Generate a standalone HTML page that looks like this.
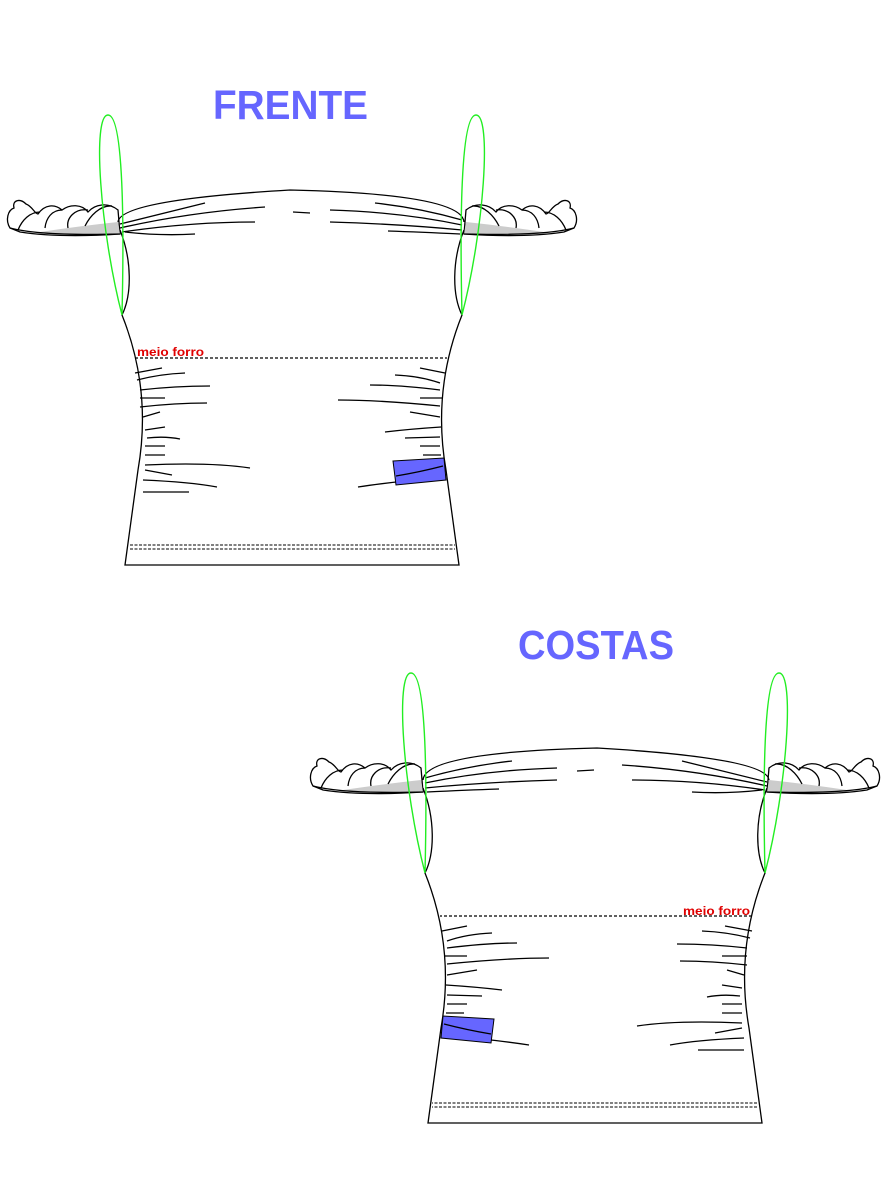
<!DOCTYPE html>
<html><head><meta charset="utf-8"><style>body{margin:0;background:#fff}svg{display:block}</style></head><body>
<svg width="887" height="1182" viewBox="0 0 887 1182" xmlns="http://www.w3.org/2000/svg">
<defs>
<g id="g" fill="none" stroke="#000" stroke-width="1.3">
  <!-- sleeves -->
  <path d="M10,228 C5,220 8,210 14,208 C12,200 20,198 26,204 C32,206 35,214 38,214 C45,204 55,204 62,210 C70,204 82,204 88,212 C95,204 108,202 118,210 L120,234 Q60,238 20,232 Z" fill="#fff"/>
  <path d="M40,232 Q80,226 118,222 L120,234 Q80,236 40,232 Z" fill="#ccc" stroke="none"/>
  <path d="M18,230 C22,220 30,212 40,212 M45,228 C46,218 52,210 62,210 M68,228 C66,218 75,208 88,210 M85,226 C90,216 100,205 112,206"/>
  <path d="M10,228 Q40,236 120,234"/>
  <path d="M574,228 C579,220 576,210 570,208 C572,200 564,198 558,204 C552,206 549,214 546,214 C539,204 529,204 522,210 C514,204 502,204 496,212 C489,204 476,202 466,210 L464,234 Q524,238 564,232 Z" fill="#fff"/>
  <path d="M544,232 Q504,226 466,222 L464,234 Q504,236 544,232 Z" fill="#ccc" stroke="none"/>
  <path d="M566,230 C562,220 554,212 544,212 M539,228 C538,218 532,210 522,210 M516,228 C518,218 509,208 496,210 M499,226 C494,216 484,205 472,206"/>
  <path d="M574,228 Q544,236 464,234"/>
  <!-- band -->
  <path d="M118,222 Q120,200 290,190 Q462,194 464,222"/>
  <path d="M120,224 L205,203 M120,228 Q190,212 265,207 M122,232 Q190,222 255,222 M125,232 Q160,236 195,234 M293,212 L310,213"/>
  <path d="M462,220 Q420,208 375,203 M462,225 Q400,212 330,210 M462,230 Q400,224 330,222 M460,234 Q420,232 388,231"/>
  <!-- armholes & sides -->
  <path d="M120,230 C132,260 132,295 122,315 Q152,390 138,470 L125,565 L459,565 L446,470 Q432,390 462,315 C452,295 452,260 464,230"/>
  <path d="M130,545 L455,545 M130,549 L455,549" stroke-dasharray="3,1.5" stroke-width="1"/>
  <path d="M135,358 L447,358" stroke-dasharray="3,2" stroke-width="1.2"/>
  <path d="M135,373 L162,368 M137,380 Q160,374 185,373 M140,390 Q175,386 210,386 M140,398 L165,398 M140,407 Q175,403 207,403 M143,417 L160,412 M145,430 L165,427 M147,438 Q165,436 180,439 M145,446 L165,446 M145,455 L165,455 M145,465 Q210,462 250,468 M145,470 L172,475 M143,480 Q190,482 217,487 M143,492 L189,492"/>
  <path d="M445,373 L420,368 M440,383 Q420,376 395,375 M440,390 Q400,385 370,385 M443,398 L420,398 M440,406 Q380,400 338,400 M440,417 L410,412 M441,427 Q410,429 385,432 M440,437 L405,438 M440,446 L420,446 M441,455 L423,455 M441,468 L415,473 M438,478 Q390,482 358,487"/>
  <path d="M393,461 L444,458 L446,480 L396,485 Z" fill="#6666ff" stroke="#000" stroke-width="1"/>
  <path d="M396,476 Q420,472 443,466"/>
  <!-- green strap -->
  <path d="M122,315 C100,230 92,115 108,115 C124,115 124,230 122,315" stroke="#22ee22" stroke-width="1.4"/>
  <path d="M462,315 C484,230 492,115 476,115 C460,115 460,230 462,315" stroke="#22ee22" stroke-width="1.4"/>
</g>
</defs>
<use href="#g"/>
<use href="#g" transform="translate(887,558) scale(-1,1)"/>
<g font-family="Liberation Sans, sans-serif" font-weight="bold">
<text x="213" y="119" font-size="41" fill="#6666ff" textLength="155" lengthAdjust="spacingAndGlyphs">FRENTE</text>
<text x="518" y="659" font-size="41" fill="#6666ff" textLength="156" lengthAdjust="spacingAndGlyphs">COSTAS</text>
<text x="137" y="356" font-size="12" fill="#e00000" textLength="67" lengthAdjust="spacingAndGlyphs">meio forro</text>
<text x="683" y="915" font-size="12" fill="#e00000" textLength="67" lengthAdjust="spacingAndGlyphs">meio forro</text>
</g>
</svg>
</body></html>
